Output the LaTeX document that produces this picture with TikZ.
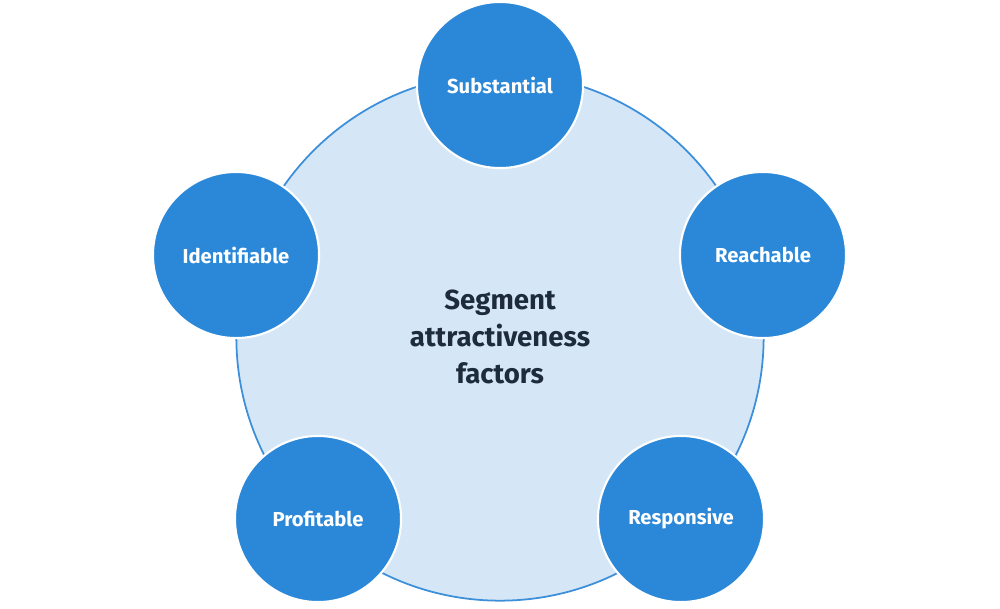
\documentclass[tikz,border=0pt]{standalone}
\usepackage{fontspec}
\setmainfont{Fira Sans}
\definecolor{dot}{HTML}{2B88D8}
\definecolor{bigfill}{HTML}{D5E7F7}
\definecolor{bigline}{HTML}{3D8FD9}
\definecolor{ink}{HTML}{1E2B3A}
\begin{document}
\begin{tikzpicture}[x=0.01cm,y=-0.01cm,
  small/.style={circle,fill=dot,draw=white,line width=0.6pt,minimum size=1.66cm,inner sep=0pt,text=white,font=\fontsize{5.75}{6.5}\selectfont\bfseries}]
\useasboundingbox (0,0) rectangle (1000,608);
\node[circle,fill=bigfill,draw=bigline,line width=0.5pt,minimum size=5.27cm,inner sep=0pt] (big) at (500,337) {};
\node[align=center,text=ink,font=\fontsize{7.85}{10.5}\selectfont\bfseries] (title) at (500,337) {Segment\\attractiveness\\factors};
\node[small] (s) at (500,85) {Substantial};
\node[small] (i) at (236,255) {Identifiable};
\node[small] (r) at (763,255) {Reachable};
\node[small] (p) at (318,519) {Profitable};
\node[small] (q) at (681,519) {Responsive};
\end{tikzpicture}
\end{document}
